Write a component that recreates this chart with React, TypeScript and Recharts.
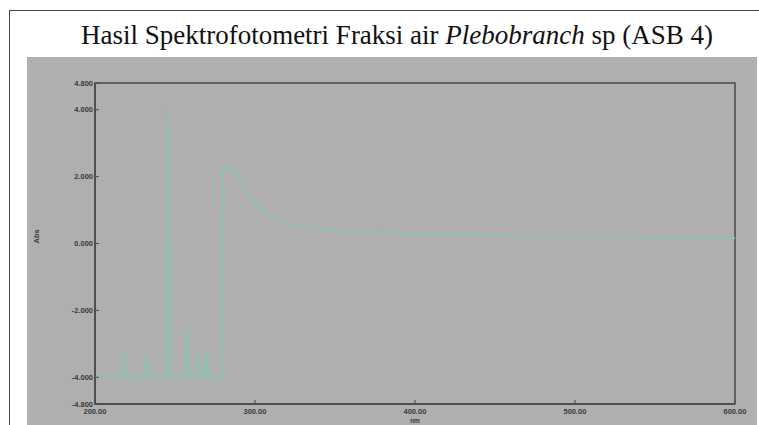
import { Line, LineChart, ReferenceArea, XAxis, YAxis } from "recharts"

// wavelength (nm) and absorbance
const wavelengths = [
  200, 217.5, 218.5, 219.5, 231.5, 232.5, 233.5, 245, 246, 247, 256.5, 257.5, 258.5, 264, 265, 266,
  269, 270, 271, 279, 280, 283, 286, 290, 295, 300, 305, 310, 320, 330, 340, 360, 380, 400, 450, 500,
  550, 600,
]
const absorbance = [
  -4.0, -4.0, -3.25, -4.0, -4.0, -3.3, -4.0, -4.0, 4.05, -4.0, -4.0, -2.55, -4.0, -4.0, -3.3, -4.0,
  -4.0, -3.3, -4.0, -4.0, 2.25, 2.3, 2.2, 1.95, 1.55, 1.2, 0.98, 0.8, 0.6, 0.5, 0.44, 0.36, 0.31, 0.28,
  0.24, 0.22, 0.19, 0.16,
]
const xTicks = [200, 300, 400, 500, 600]
const yTicks = [-4.8, -4, -2, 0, 2, 4, 4.8]

const data = wavelengths.map((nm, i) => ({ nm, abs: absorbance[i] }))

const axisColor = "#4a4a4a"

function LeftTick(props: any) {
  const { x, y, payload } = props
  return (
    <g>
      <line x1={x} y1={y} x2={x + 4} y2={y} stroke={axisColor} strokeWidth={1} />
      <text x={x - 2} y={y + 2.5} textAnchor="end" fontSize={7.5} fontWeight="bold" fill="#3a3a3a">
        {payload.value.toFixed(3)}
      </text>
    </g>
  )
}

function BottomTick(props: any) {
  const { x, y, payload } = props
  return (
    <g>
      <line x1={x} y1={y} x2={x} y2={y - 4} stroke={axisColor} strokeWidth={1} />
      <text x={x} y={y + 10} textAnchor="middle" fontSize={7.5} fontWeight="bold" fill="#3a3a3a">
        {payload.value.toFixed(2)}
      </text>
    </g>
  )
}

function RightTick(props: any) {
  const { x, y } = props
  return <line x1={x} y1={y} x2={x - 4} y2={y} stroke={axisColor} strokeWidth={1} />
}

function TopTick(props: any) {
  const { x, y } = props
  return <line x1={x} y1={y} x2={x} y2={y + 4} stroke={axisColor} strokeWidth={1} />
}

export default function App() {
  return (
    <div style={{ position: "absolute", left: 0, top: 0, width: 759, height: 425, background: "#fff", overflow: "hidden" }}>
      <div
        style={{
          position: "absolute",
          left: 9,
          top: 10,
          width: 800,
          height: 440,
          border: "1.5px solid #444",
        }}
      />
      <div
        style={{
          position: "absolute",
          left: -3,
          top: 19,
          width: 800,
          textAlign: "center",
          fontFamily: "'Liberation Serif', 'Times New Roman', serif",
          fontSize: 27,
          lineHeight: "32px",
          color: "#111",
          whiteSpace: "nowrap",
        }}
      >
        Hasil Spektrofotometri Fraksi air <i>Plebobranch</i> sp (ASB 4)
      </div>
      <div style={{ position: "absolute", left: 27, top: 57, width: 730, height: 368, background: "#afafaf" }}>
        <LineChart
          width={730}
          height={368}
          data={data}
          margin={{ top: 26, right: 22, left: 0, bottom: 0 }}
          style={{ fontFamily: "Arial, sans-serif" }}
        >
          <XAxis
            dataKey="nm"
            type="number"
            domain={[200, 600]}
            ticks={xTicks}
            height={21}
            axisLine={{ stroke: axisColor, strokeWidth: 1.5 }}
            tickSize={0}
            tickMargin={0}
            tickLine={false}
            tick={<BottomTick />}
            interval={0}
          />
          <XAxis
            xAxisId="top"
            orientation="top"
            dataKey="nm"
            type="number"
            domain={[200, 600]}
            ticks={xTicks}
            height={0}
            axisLine={false}
            tickSize={0}
            tickMargin={0}
            tickLine={false}
            tick={<TopTick />}
            interval={0}
          />
          <YAxis
            type="number"
            domain={[-4.8, 4.8]}
            ticks={yTicks}
            width={68}
            axisLine={{ stroke: axisColor, strokeWidth: 1.5 }}
            tickSize={0}
            tickMargin={0}
            tickLine={false}
            tick={<LeftTick />}
            interval={0}
            label={{ value: "Abs", angle: -90, position: "insideLeft", offset: 9, fontSize: 7.5, fontWeight: "bold", fill: "#3a3a3a" }}
          />
          <YAxis
            yAxisId="right"
            orientation="right"
            type="number"
            domain={[-4.8, 4.8]}
            ticks={yTicks}
            width={0}
            axisLine={false}
            tickSize={0}
            tickMargin={0}
            tickLine={false}
            tick={<RightTick />}
            interval={0}
          />
          <ReferenceArea
            x1={200}
            x2={600}
            y1={-4.8}
            y2={4.8}
            fill="none"
            fillOpacity={0}
            stroke={axisColor}
            strokeWidth={1.5}
            ifOverflow="visible"
          />
          <text x={388} y={366} textAnchor="middle" fontSize={6.5} fontWeight="bold" fill="#3a3a3a">
            nm
          </text>
          <Line
            type="linear"
            dataKey="abs"
            stroke="#8cc2b4"
            strokeWidth={1.8}
            dot={false}
            isAnimationActive={false}
          />
        </LineChart>
      </div>
    </div>
  )
}
